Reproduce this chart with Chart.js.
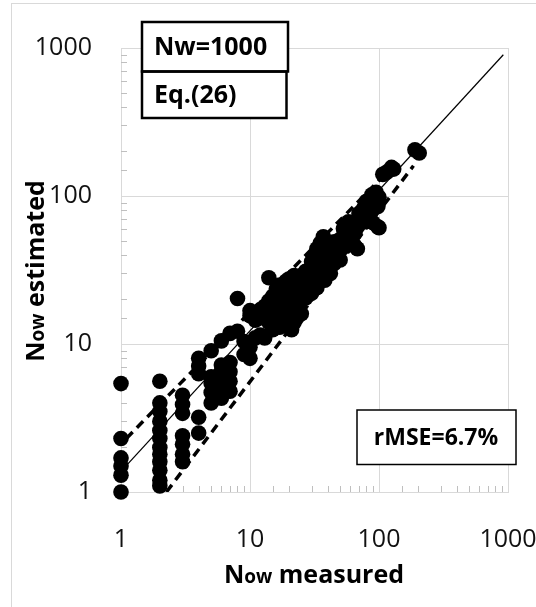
<!DOCTYPE html>
<html>
<head>
<meta charset="utf-8">
<script src="https://cdn.jsdelivr.net/npm/chart.js@4"></script>
<style>
  body { margin: 0; background: #fff; }
  #wrap { width: 536px; height: 607px; }
</style>
</head>
<body>
<div id="wrap"><canvas id="myChart" width="536" height="607"></canvas></div>
<script>
// data
const measured = [
  1, 1, 1, 1, 1, 1,
  2, 2, 2, 2, 2, 2, 2, 2, 2, 2, 2, 2,
  3, 3, 3, 3, 3, 3, 3,
  4, 4, 4, 4, 4,
  5, 5, 5, 5, 5,
  6, 6, 6, 6, 6, 6,
  7, 7, 7, 7, 7,
  8, 8,
  9, 9,
  10, 10, 10, 10,
  11, 11, 11,
  12, 12, 12,
  13, 13, 13,
  14, 14, 14,
  15, 15, 15, 15,
  16, 16, 16, 16,
  17, 17, 17, 17,
  18, 18, 18, 18,
  19, 19, 19,
  20, 20, 20, 20, 20,
  21, 21, 21,
  22, 22, 22, 22,
  23, 23, 23,
  24, 24,
  25, 25, 25,
  27, 27, 27,
  28, 28,
  30, 30, 30, 30,
  32, 32, 32,
  33, 33, 33,
  35, 35, 35, 35,
  37, 37, 37,
  38, 38,
  40, 40, 40,
  42, 42, 42,
  45, 45, 45,
  48, 48,
  50, 50, 50,
  53, 53,
  55, 55,
  58, 58, 58,
  62, 62,
  65, 65,
  68, 68,
  70, 70,
  75, 75,
  78, 78,
  80, 80,
  85, 85,
  88, 88,
  90, 90,
  95, 95,
  98, 98,
  100, 100,
  107, 115, 125, 130, 190, 205
];
const estimated = [
  1.0, 1.3, 1.5, 1.7, 2.3, 5.4,
  1.1, 1.2, 1.4, 1.6, 1.8, 2.0, 2.3, 2.6, 3.0, 3.5, 4.0, 5.6,
  1.6, 1.8, 2.1, 2.4, 3.4, 3.9, 4.5,
  2.5, 3.2, 6.3, 7.1, 8.0,
  4.0, 4.7, 5.4, 6.0, 9.0,
  4.3, 5.1, 5.8, 6.5, 7.2, 10.5,
  4.8, 5.6, 6.5, 7.5, 11.8,
  12.2, 20.3,
  8.5, 10.4,
  8.0, 9.5, 15.5, 16.8,
  14.5, 16.0, 11.0,
  11.5, 15.0, 17.0,
  11.0, 16.0, 18.0,
  14.0, 19.5, 28.0,
  12.5, 16.5, 18.5, 21.0,
  15.0, 17.5, 20.0, 23.5,
  13.0, 19.0, 22.0, 25.0,
  14.5, 17.5, 20.5, 24.0,
  16.0, 21.5, 26.5,
  13.0, 16.0, 19.5, 22.5, 27.5,
  12.5, 18.0, 24.0,
  14.0, 20.0, 25.5, 29.0,
  15.0, 21.5, 27.0,
  19.0, 24.5,
  16.0, 22.0, 29.0,
  20.5, 25.0, 31.0,
  24.0, 30.0,
  22.0, 27.0, 33.0, 36.0,
  25.0, 34.0, 40.0,
  24.0, 31.0, 44.0,
  28.0, 36.0, 40.0, 48.0,
  31.0, 38.5, 53.0,
  27.0, 43.0,
  33.0, 40.0, 47.0,
  30.0, 37.0, 45.0,
  35.0, 41.0, 49.0,
  39.0, 45.0,
  37.0, 43.0, 51.0,
  45.0, 60.0,
  47.0, 63.0,
  50.0, 57.0, 67.0,
  54.0, 61.0,
  46.0, 56.0,
  44.0, 62.0,
  65.0, 76.0,
  71.0, 81.0,
  67.0, 86.0,
  78.0, 92.0,
  70.0, 88.0,
  80.0, 102.0,
  66.0, 95.0,
  92.0, 106.0,
  62.0, 85.0,
  61.0, 98.0,
  140.0, 145.0, 156.0, 152.0, 205.0, 195.0
];

// reference lines
const fitX = [1, 920];
const fitY = [1.38, 900];
const upperX = [1.1, 140];
const upperY = [2.3, 172];
const lowerX = [2.25, 185];
const lowerY = [1.0, 160];

const tickLabels = [1, 10, 100, 1000];

const FONT = "'Open Sans', 'Liberation Sans', sans-serif";
const GRID = "#d9d9d9";

function toPoints(xs, ys) {
  return xs.map(function (x, i) { return { x: x, y: ys[i] }; });
}

function isDecade(v) {
  return tickLabels.indexOf(v) !== -1;
}

// draw text made of parts with different fonts, centred on cx
function drawParts(c, parts, cx, y) {
  let total = 0;
  parts.forEach(function (p) { c.font = p[1]; total += c.measureText(p[0]).width; });
  let x = cx - total / 2;
  c.textAlign = "left";
  c.textBaseline = "alphabetic";
  parts.forEach(function (p) {
    c.font = p[1];
    c.fillText(p[0], x, y);
    x += c.measureText(p[0]).width;
  });
}

const decor = {
  id: "decor",
  beforeDraw: function (chart) {
    const c = chart.ctx;
    c.save();
    c.fillStyle = "#fff";
    c.fillRect(0, 0, chart.width, chart.height);
    c.strokeStyle = GRID;
    c.lineWidth = 1;
    c.strokeRect(11.5, 3.5, 700, 800);
    c.restore();
  },
  beforeDatasetsDraw: function (chart) {
    // minor tick marks inside the plot
    const c = chart.ctx;
    const xs = chart.scales.x;
    const ys = chart.scales.y;
    const a = chart.chartArea;
    c.save();
    c.strokeStyle = "#bfbfbf";
    c.lineWidth = 1;
    xs.ticks.forEach(function (t) {
      if (isDecade(t.value)) return;
      const px = Math.round(xs.getPixelForValue(t.value)) + 0.5;
      c.beginPath();
      c.moveTo(px, a.bottom);
      c.lineTo(px, a.bottom - 6);
      c.stroke();
    });
    ys.ticks.forEach(function (t) {
      if (isDecade(t.value)) return;
      const py = Math.round(ys.getPixelForValue(t.value)) + 0.5;
      c.beginPath();
      c.moveTo(a.left, py);
      c.lineTo(a.left + 6, py);
      c.stroke();
    });
    c.restore();
  },
  afterDraw: function (chart) {
    const c = chart.ctx;
    c.save();
    c.fillStyle = "#000";
    c.strokeStyle = "#000";

    // Nw / Eq boxes
    c.fillStyle = "#fff";
    c.fillRect(142, 22, 146, 96);
    c.lineWidth = 2.5;
    c.strokeRect(142, 22, 146, 49.5);
    c.strokeRect(142, 71.5, 144.5, 46.5);
    c.fillStyle = "#000";
    c.font = "bold 25px " + FONT;
    c.textAlign = "left";
    c.textBaseline = "middle";
    c.fillText("Nw=1000", 154, 48);
    c.fillText("Eq.(26)", 154, 96);

    // rMSE box
    c.fillStyle = "#fff";
    c.fillRect(357, 410, 159, 54.5);
    c.lineWidth = 1.5;
    c.strokeRect(357, 410, 159, 54.5);
    c.fillStyle = "#000";
    c.font = "bold 23px " + FONT;
    c.textAlign = "center";
    c.fillText("rMSE=6.7%", 436, 438);

    // axis titles
    drawParts(c, [["N", "bold 25px " + FONT], ["ow", "bold 19px " + FONT], [" measured", "bold 25px " + FONT]], 314, 583);
    c.translate(44, 271);
    c.rotate(-Math.PI / 2);
    drawParts(c, [["N", "bold 25px " + FONT], ["ow", "bold 19px " + FONT], [" estimated", "bold 25px " + FONT]], 0, 0);
    c.restore();
  }
};

function axis(fitFn) {
  return {
    type: "logarithmic",
    min: 1,
    max: 1000,
    grid: {
      color: function (ctx) {
        return ctx.tick && isDecade(ctx.tick.value) ? GRID : "rgba(0,0,0,0)";
      },
      drawTicks: false
    },
    border: { color: GRID },
    ticks: {
      autoSkip: false,
      maxRotation: 0,
      color: "#111",
      font: { family: FONT, size: 25 },
      callback: function (v) { return isDecade(v) ? String(v) : ""; }
    },
    afterFit: fitFn
  };
}

const xAxis = axis(function (s) {
  s.height = 115;
  s.paddingLeft = 0;
  s.paddingRight = 0;
});
xAxis.ticks.padding = 33;
const yAxis = axis(function (s) {
  s.width = 121;
  s.paddingTop = 0;
  s.paddingBottom = 0;
});
yAxis.ticks.padding = 29;

new Chart(document.getElementById("myChart"), {
  type: "scatter",
  data: {
    datasets: [
      {
        data: toPoints(measured, estimated),
        backgroundColor: "#000",
        borderWidth: 0,
        pointRadius: 7.8,
        pointHoverRadius: 7.8,
        clip: false,
        order: 0
      },
      {
        data: toPoints(fitX, fitY),
        showLine: true,
        borderColor: "#000",
        borderWidth: 1.2,
        pointRadius: 0,
        order: 1
      },
      {
        data: toPoints(upperX, upperY),
        showLine: true,
        borderColor: "#000",
        borderWidth: 3.5,
        borderDash: [9, 6],
        pointRadius: 0,
        order: 2
      },
      {
        data: toPoints(lowerX, lowerY),
        showLine: true,
        borderColor: "#000",
        borderWidth: 3.5,
        borderDash: [9, 6],
        pointRadius: 0,
        order: 3
      }
    ]
  },
  options: {
    responsive: false,
    animation: false,
    layout: { padding: { top: 48, right: 28, left: 0, bottom: 0 } },
    plugins: { legend: { display: false }, tooltip: { enabled: false } },
    scales: { x: xAxis, y: yAxis }
  },
  plugins: [decor]
});
</script>
</body>
</html>
